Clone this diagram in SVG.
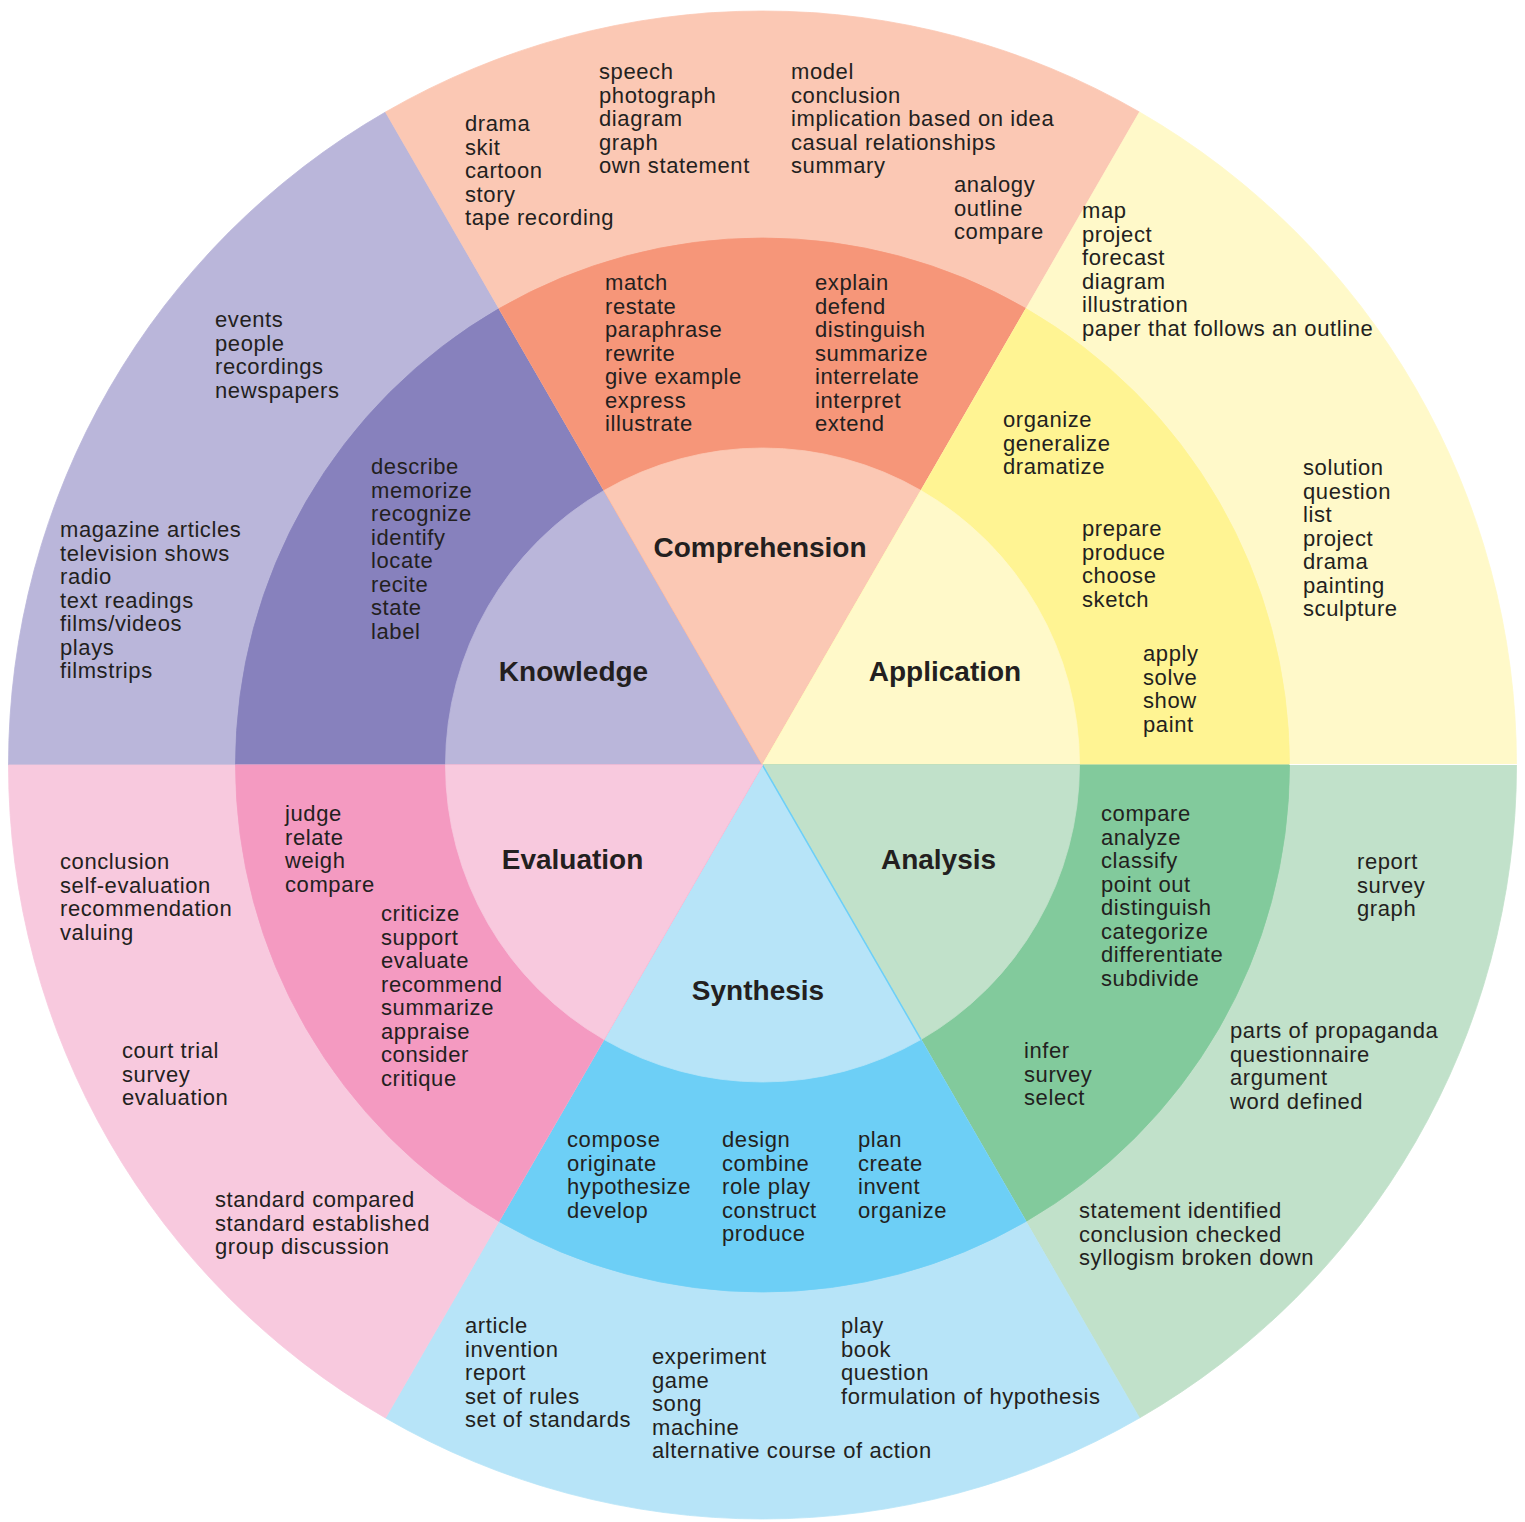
<svg xmlns="http://www.w3.org/2000/svg" width="1525" height="1522" viewBox="0 0 1525 1522">
<style>
.t{font-family:"Liberation Sans",Arial,sans-serif;font-size:22px;letter-spacing:0.6px;fill:#231f20}
.h{font-family:"Liberation Sans",Arial,sans-serif;font-size:28px;font-weight:bold;fill:#231f20;text-anchor:middle}
.kl{fill:#bab6da;stroke:#bab6da}.km{fill:#8781bd;stroke:#8781bd}
.cl{fill:#fbc8b4;stroke:#fbc8b4}.cm{fill:#f69679;stroke:#f69679}
.al{fill:#fff9c9;stroke:#fff9c9}.am{fill:#fff493;stroke:#fff493}
.nl{fill:#c1e1ca;stroke:#c1e1ca}.nm{fill:#82ca9c;stroke:#82ca9c}
.sl{fill:#b7e4f8;stroke:#b7e4f8}.sm{fill:#6dcff6;stroke:#6dcff6}
.el{fill:#f8c9de;stroke:#f8c9de}.em{fill:#f49ac1;stroke:#f49ac1}
path{stroke-width:0.8}
</style>
<rect width="1525" height="1522" fill="#ffffff"/>

<g id="knowledge">
<path class="kl" d="M762.5,765 L385.5,112.02 A754,754 0 0 0 8.5,765 Z"/>
<path class="km" d="M762.5,765 L499,308.61 A527,527 0 0 0 235.5,765 Z"/>
<path class="kl" d="M762.5,765 L604,490.47 A317,317 0 0 0 445.5,765 Z"/>
<text class="t" x="215" y="327"><tspan x="215">events</tspan><tspan x="215" dy="23.5">people</tspan><tspan x="215" dy="23.5">recordings</tspan><tspan x="215" dy="23.5">newspapers</tspan></text>
<text class="t" x="60" y="537"><tspan x="60">magazine articles</tspan><tspan x="60" dy="23.5">television shows</tspan><tspan x="60" dy="23.5">radio</tspan><tspan x="60" dy="23.5">text readings</tspan><tspan x="60" dy="23.5">films/videos</tspan><tspan x="60" dy="23.5">plays</tspan><tspan x="60" dy="23.5">filmstrips</tspan></text>
<text class="t" x="371" y="474"><tspan x="371">describe</tspan><tspan x="371" dy="23.5">memorize</tspan><tspan x="371" dy="23.5">recognize</tspan><tspan x="371" dy="23.5">identify</tspan><tspan x="371" dy="23.5">locate</tspan><tspan x="371" dy="23.5">recite</tspan><tspan x="371" dy="23.5">state</tspan><tspan x="371" dy="23.5">label</tspan></text>
<text class="h" x="573.5" y="681">Knowledge</text>
</g>

<g id="comprehension">
<path class="cl" d="M762.5,765 L1139.5,112.02 A754,754 0 0 0 385.5,112.02 Z"/>
<path class="cm" d="M762.5,765 L1026,308.61 A527,527 0 0 0 499,308.61 Z"/>
<path class="cl" d="M762.5,765 L921,490.47 A317,317 0 0 0 604,490.47 Z"/>
<text class="t" x="465" y="131"><tspan x="465">drama</tspan><tspan x="465" dy="23.5">skit</tspan><tspan x="465" dy="23.5">cartoon</tspan><tspan x="465" dy="23.5">story</tspan><tspan x="465" dy="23.5">tape recording</tspan></text>
<text class="t" x="599" y="79"><tspan x="599">speech</tspan><tspan x="599" dy="23.5">photograph</tspan><tspan x="599" dy="23.5">diagram</tspan><tspan x="599" dy="23.5">graph</tspan><tspan x="599" dy="23.5">own statement</tspan></text>
<text class="t" x="791" y="79"><tspan x="791">model</tspan><tspan x="791" dy="23.5">conclusion</tspan><tspan x="791" dy="23.5">implication based on idea</tspan><tspan x="791" dy="23.5">casual relationships</tspan><tspan x="791" dy="23.5">summary</tspan></text>
<text class="t" x="954" y="192"><tspan x="954">analogy</tspan><tspan x="954" dy="23.5">outline</tspan><tspan x="954" dy="23.5">compare</tspan></text>
<text class="t" x="605" y="290"><tspan x="605">match</tspan><tspan x="605" dy="23.5">restate</tspan><tspan x="605" dy="23.5">paraphrase</tspan><tspan x="605" dy="23.5">rewrite</tspan><tspan x="605" dy="23.5">give example</tspan><tspan x="605" dy="23.5">express</tspan><tspan x="605" dy="23.5">illustrate</tspan></text>
<text class="t" x="815" y="290"><tspan x="815">explain</tspan><tspan x="815" dy="23.5">defend</tspan><tspan x="815" dy="23.5">distinguish</tspan><tspan x="815" dy="23.5">summarize</tspan><tspan x="815" dy="23.5">interrelate</tspan><tspan x="815" dy="23.5">interpret</tspan><tspan x="815" dy="23.5">extend</tspan></text>
<text class="h" x="760" y="557">Comprehension</text>
</g>

<g id="application">
<path class="al" d="M762.5,765 L1516.5,765 A754,754 0 0 0 1139.5,112.02 Z"/>
<path class="am" d="M762.5,765 L1289.5,765 A527,527 0 0 0 1026,308.61 Z"/>
<path class="al" d="M762.5,765 L1079.5,765 A317,317 0 0 0 921,490.47 Z"/>
<text class="t" x="1082" y="218"><tspan x="1082">map</tspan><tspan x="1082" dy="23.5">project</tspan><tspan x="1082" dy="23.5">forecast</tspan><tspan x="1082" dy="23.5">diagram</tspan><tspan x="1082" dy="23.5">illustration</tspan><tspan x="1082" dy="23.5">paper that follows an outline</tspan></text>
<text class="t" x="1303" y="475"><tspan x="1303">solution</tspan><tspan x="1303" dy="23.5">question</tspan><tspan x="1303" dy="23.5">list</tspan><tspan x="1303" dy="23.5">project</tspan><tspan x="1303" dy="23.5">drama</tspan><tspan x="1303" dy="23.5">painting</tspan><tspan x="1303" dy="23.5">sculpture</tspan></text>
<text class="t" x="1003" y="427"><tspan x="1003">organize</tspan><tspan x="1003" dy="23.5">generalize</tspan><tspan x="1003" dy="23.5">dramatize</tspan></text>
<text class="t" x="1082" y="536"><tspan x="1082">prepare</tspan><tspan x="1082" dy="23.5">produce</tspan><tspan x="1082" dy="23.5">choose</tspan><tspan x="1082" dy="23.5">sketch</tspan></text>
<text class="t" x="1143" y="661"><tspan x="1143">apply</tspan><tspan x="1143" dy="23.5">solve</tspan><tspan x="1143" dy="23.5">show</tspan><tspan x="1143" dy="23.5">paint</tspan></text>
<text class="h" x="945" y="681">Application</text>
</g>

<g id="analysis">
<path class="nl" d="M762.5,765 L1139.5,1417.98 A754,754 0 0 0 1516.5,765 Z"/>
<path class="nm" d="M762.5,765 L1026,1221.39 A527,527 0 0 0 1289.5,765 Z"/>
<path class="nl" d="M762.5,765 L921,1039.53 A317,317 0 0 0 1079.5,765 Z"/>
<text class="t" x="1101" y="821"><tspan x="1101">compare</tspan><tspan x="1101" dy="23.5">analyze</tspan><tspan x="1101" dy="23.5">classify</tspan><tspan x="1101" dy="23.5">point out</tspan><tspan x="1101" dy="23.5">distinguish</tspan><tspan x="1101" dy="23.5">categorize</tspan><tspan x="1101" dy="23.5">differentiate</tspan><tspan x="1101" dy="23.5">subdivide</tspan></text>
<text class="t" x="1024" y="1058"><tspan x="1024">infer</tspan><tspan x="1024" dy="23.5">survey</tspan><tspan x="1024" dy="23.5">select</tspan></text>
<text class="t" x="1357" y="869"><tspan x="1357">report</tspan><tspan x="1357" dy="23.5">survey</tspan><tspan x="1357" dy="23.5">graph</tspan></text>
<text class="t" x="1230" y="1038"><tspan x="1230">parts of propaganda</tspan><tspan x="1230" dy="23.5">questionnaire</tspan><tspan x="1230" dy="23.5">argument</tspan><tspan x="1230" dy="23.5">word defined</tspan></text>
<text class="t" x="1079" y="1218"><tspan x="1079">statement identified</tspan><tspan x="1079" dy="23.5">conclusion checked</tspan><tspan x="1079" dy="23.5">syllogism broken down</tspan></text>
<text class="h" x="938.5" y="869">Analysis</text>
</g>

<g id="synthesis">
<path class="sl" d="M762.5,765 L385.5,1417.98 A754,754 0 0 0 1139.5,1417.98 Z"/>
<path class="sm" d="M762.5,765 L499,1221.39 A527,527 0 0 0 1026,1221.39 Z"/>
<path class="sl" d="M762.5,765 L604,1039.53 A317,317 0 0 0 921,1039.53 Z"/>
<line x1="762.5" y1="765" x2="921" y2="1039.53" stroke="#6dcff6" stroke-width="1.5"/>
<text class="t" x="567" y="1147"><tspan x="567">compose</tspan><tspan x="567" dy="23.5">originate</tspan><tspan x="567" dy="23.5">hypothesize</tspan><tspan x="567" dy="23.5">develop</tspan></text>
<text class="t" x="722" y="1147"><tspan x="722">design</tspan><tspan x="722" dy="23.5">combine</tspan><tspan x="722" dy="23.5">role play</tspan><tspan x="722" dy="23.5">construct</tspan><tspan x="722" dy="23.5">produce</tspan></text>
<text class="t" x="858" y="1147"><tspan x="858">plan</tspan><tspan x="858" dy="23.5">create</tspan><tspan x="858" dy="23.5">invent</tspan><tspan x="858" dy="23.5">organize</tspan></text>
<text class="t" x="465" y="1333"><tspan x="465">article</tspan><tspan x="465" dy="23.5">invention</tspan><tspan x="465" dy="23.5">report</tspan><tspan x="465" dy="23.5">set of rules</tspan><tspan x="465" dy="23.5">set of standards</tspan></text>
<text class="t" x="652" y="1364"><tspan x="652">experiment</tspan><tspan x="652" dy="23.5">game</tspan><tspan x="652" dy="23.5">song</tspan><tspan x="652" dy="23.5">machine</tspan><tspan x="652" dy="23.5">alternative course of action</tspan></text>
<text class="t" x="841" y="1333"><tspan x="841">play</tspan><tspan x="841" dy="23.5">book</tspan><tspan x="841" dy="23.5">question</tspan><tspan x="841" dy="23.5">formulation of hypothesis</tspan></text>
<text class="h" x="758" y="1000">Synthesis</text>
</g>

<g id="evaluation">
<path class="el" d="M762.5,765 L8.5,765 A754,754 0 0 0 385.5,1417.98 Z"/>
<path class="em" d="M762.5,765 L235.5,765 A527,527 0 0 0 499,1221.39 Z"/>
<path class="el" d="M762.5,765 L445.5,765 A317,317 0 0 0 604,1039.53 Z"/>
<text class="t" x="285" y="821"><tspan x="285">judge</tspan><tspan x="285" dy="23.5">relate</tspan><tspan x="285" dy="23.5">weigh</tspan><tspan x="285" dy="23.5">compare</tspan></text>
<text class="t" x="381" y="921"><tspan x="381">criticize</tspan><tspan x="381" dy="23.5">support</tspan><tspan x="381" dy="23.5">evaluate</tspan><tspan x="381" dy="23.5">recommend</tspan><tspan x="381" dy="23.5">summarize</tspan><tspan x="381" dy="23.5">appraise</tspan><tspan x="381" dy="23.5">consider</tspan><tspan x="381" dy="23.5">critique</tspan></text>
<text class="t" x="60" y="869"><tspan x="60">conclusion</tspan><tspan x="60" dy="23.5">self-evaluation</tspan><tspan x="60" dy="23.5">recommendation</tspan><tspan x="60" dy="23.5">valuing</tspan></text>
<text class="t" x="122" y="1058"><tspan x="122">court trial</tspan><tspan x="122" dy="23.5">survey</tspan><tspan x="122" dy="23.5">evaluation</tspan></text>
<text class="t" x="215" y="1207"><tspan x="215">standard compared</tspan><tspan x="215" dy="23.5">standard established</tspan><tspan x="215" dy="23.5">group discussion</tspan></text>
<text class="h" x="572.5" y="869">Evaluation</text>
</g>

<line x1="1289.5" y1="764.5" x2="1518" y2="764.5" stroke="#ffffff" stroke-width="1.2"/>
</svg>
